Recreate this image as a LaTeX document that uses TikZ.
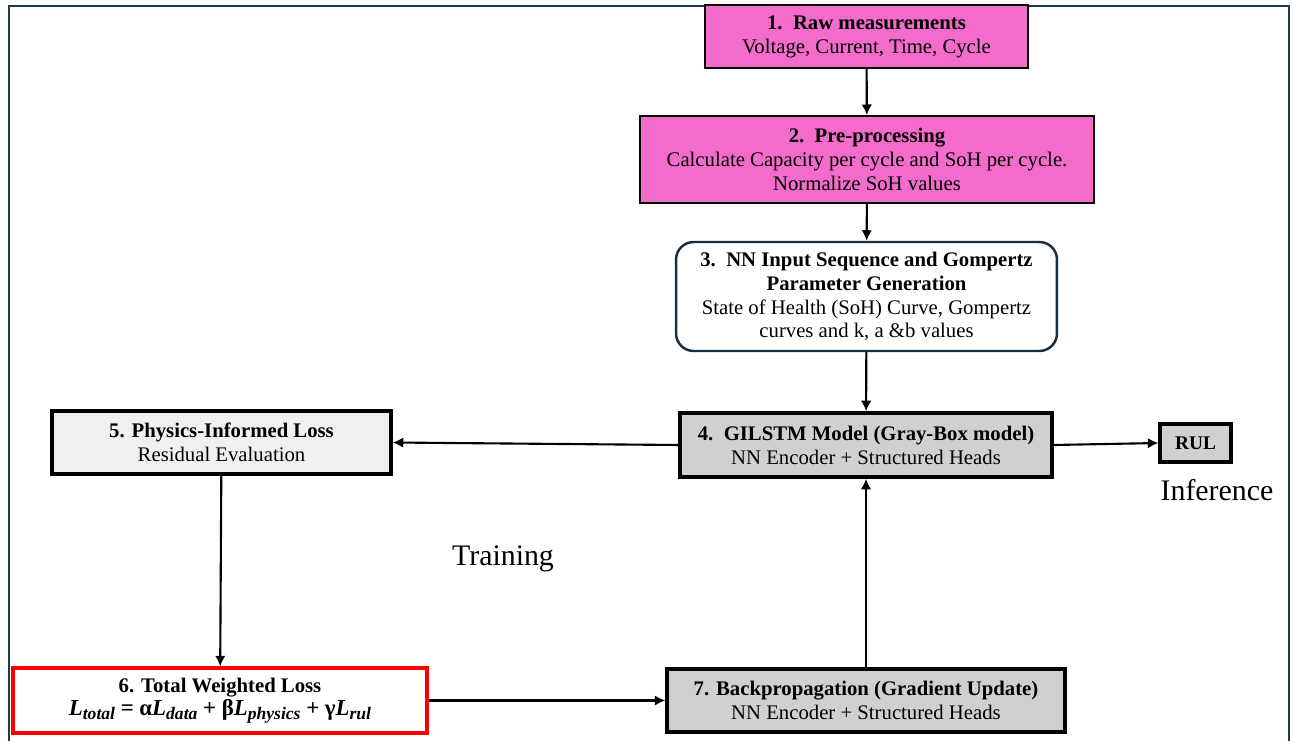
\documentclass[tikz,border=0pt]{standalone}
\usepackage{fontspec}
\setmainfont{Liberation Serif}
\usepackage{tikz}
\usetikzlibrary{positioning, arrows.meta}
\usepackage{xcolor}
\definecolor{pinkfill}{HTML}{F36BCB}
\definecolor{grayfill}{HTML}{D0D0D0}
\definecolor{lightfill}{HTML}{F0F0F0}
\definecolor{framecol}{HTML}{1F3A4F}
\newcommand{\lsub}[1]{\textit{L}\raisebox{-0.35ex}{\fontsize{10}{11}\selectfont\textit{#1}}}

\begin{document}
\begin{tikzpicture}[
    x=0.02cm, y=-0.02cm,
    box/.style={draw, align=center, inner sep=2pt, font=\fontsize{11.8}{13.6}\selectfont},
    pinkbox/.style={box, fill=pinkfill, line width=1.1pt},
    graybox/.style={box, fill=grayfill, line width=2pt},
    arr/.style={-{Latex[length=6pt,width=6pt]}, line width=1.2pt}
]
  \useasboundingbox (0,0) rectangle (1294,740);
  \draw[framecol, line width=1.6pt] (9,6) rectangle (1289,745);

  % --- MAIN CHAIN ---
  \node[pinkbox, minimum width=6.46cm, minimum height=1.26cm] (raw) at (866.5,36.5)
    {\textbf{1.\ \ Raw measurements}\\Voltage, Current, Time, Cycle};
  \node[pinkbox, minimum width=9.08cm, minimum height=1.74cm] (pre) at (867,159.5)
    {\textbf{2.\ \ Pre-processing}\\Calculate Capacity per cycle and SoH per cycle.\\Normalize SoH values};
  \node[box, fill=white, draw=framecol!80!black, line width=1.4pt, rounded corners=10pt,
        minimum width=7.62cm, minimum height=2.18cm] (seq) at (866.5,296.5)
    {\textbf{3.\ \ NN Input Sequence and Gompertz}\\\textbf{Parameter Generation}\\State of Health (SoH) Curve, Gompertz\\curves and k, a \&b values};
  \node[graybox, minimum width=7.44cm, minimum height=1.28cm] (gil) at (866,445)
    {\textbf{4.\ \ GILSTM Model (Gray-Box model)}\\NN Encoder + Structured Heads};

  % --- TRAINING LOOP ---
  \node[box, fill=lightfill, line width=2pt, minimum width=6.78cm, minimum height=1.26cm] (phys) at (221.5,442.5)
    {\textbf{5. Physics-Informed Loss}\\Residual Evaluation};
  \node[box, fill=white, draw=red, line width=1.9pt, minimum width=8.28cm, minimum height=1.30cm] (total) at (220,700.5)
    {\textbf{6. Total Weighted Loss}\\{\fontsize{13}{14}\selectfont\bfseries\lsub{total} = α\lsub{data} + β\lsub{physics} + γ\lsub{rul}}};
  \node[graybox, minimum width=7.96cm, minimum height=1.26cm] (back) at (866,700.5)
    {\textbf{7. Backpropagation (Gradient Update)}\\NN Encoder + Structured Heads};

  % --- OUTPUT ---
  \node[graybox, line width=1.8pt, minimum width=1.42cm, minimum height=0.76cm, font=\fontsize{11}{13}\selectfont\bfseries] (rul) at (1195.5,443) {RUL};

  \node[font=\fontsize{17}{20}\selectfont] (inf) at (1217,490) {Inference};
  \node[font=\fontsize{17}{20}\selectfont] (train) at (503,559) {Training};

  % --- ARROWS ---
  \draw[arr] (raw) -- (pre);
  \draw[arr] (pre) -- (seq);
  \draw[arr] (seq) -- (gil);
  \draw[arr] (gil.west) -- (phys.east);
  \draw[arr] (gil.east) -- (rul.west);
  \draw[arr] (phys) -- (total);
  \draw[arr] (total) -- (back);
  \draw[arr] (back) -- (gil);
\end{tikzpicture}
\end{document}
